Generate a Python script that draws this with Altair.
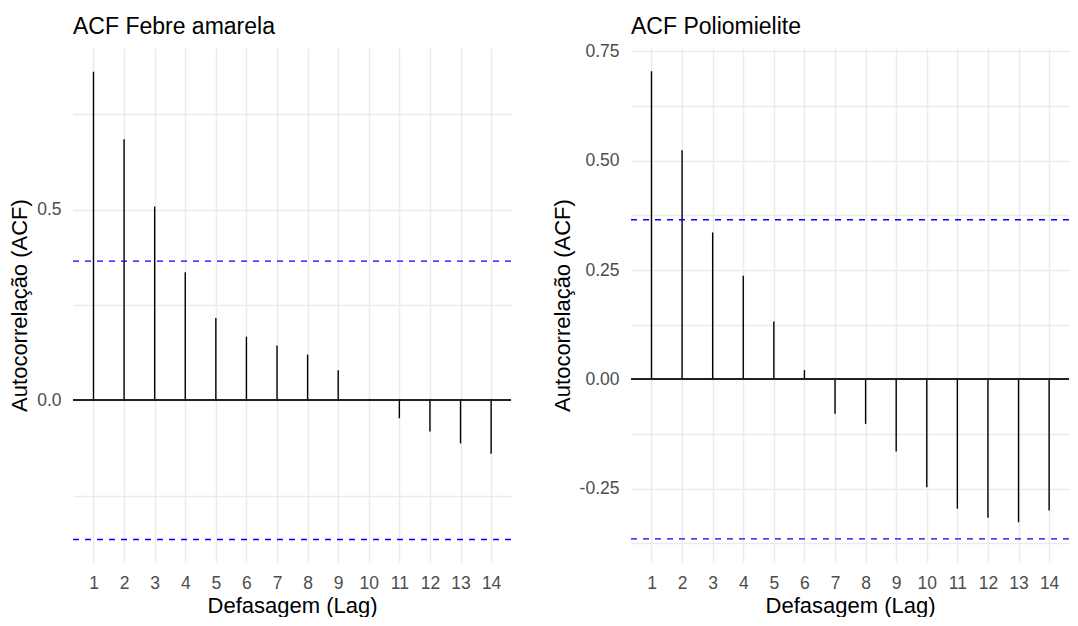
import altair as alt
import pandas as pd

lags = list(range(1, 15))
acf_febre = [0.862, 0.685, 0.508, 0.336, 0.216, 0.167, 0.144, 0.120, 0.079, 0.001,
             -0.047, -0.082, -0.113, -0.140]
acf_polio = [0.705, 0.524, 0.336, 0.237, 0.132, 0.021, -0.079, -0.102, -0.165, -0.247,
             -0.296, -0.317, -0.327, -0.300]
conf_limit = 0.365

FONT = "Liberation Sans"


def panel(values, title, ydomain, grid_vals, label_expr, width, title_offset):
    df = pd.DataFrame({"lag": lags, "acf": values, "zero": [0.0] * len(lags)})
    x = alt.X("lag:Q", scale=alt.Scale(domain=[0.33, 14.65], nice=False, zero=False),
              axis=alt.Axis(values=lags, title="Defasagem (Lag)", format="d"))
    y = alt.Y("acf:Q", scale=alt.Scale(domain=ydomain, nice=False, zero=False),
              axis=alt.Axis(values=grid_vals, labelExpr=label_expr,
                            title="Autocorrelação (ACF)"))
    bars = alt.Chart(df).mark_rule(color="black", strokeWidth=1.4).encode(
        x=x, y=y, y2="zero:Q")
    zero = alt.Chart(df).mark_rule(color="#222222", strokeWidth=1.3).encode(
        y=alt.datum(0))
    conf = pd.DataFrame({"c": [conf_limit, -conf_limit]})
    dash = alt.Chart(conf).mark_rule(color="blue", strokeWidth=1.4,
                                     strokeDash=[6, 6]).encode(y="c:Q")
    return alt.layer(bars, zero, dash).properties(
        width=width, height=514,
        title=alt.TitleParams(title, anchor="start", frame="group",
                              offset=title_offset))


left = panel(acf_febre, "ACF Febre amarela", [-0.424, 0.924],
             [-0.25, 0, 0.25, 0.5, 0.75],
             "(datum.value == 0 || datum.value == 0.5) ? format(datum.value, '.1f') : ''",
             438, 9)
right = panel(acf_polio, "ACF Poliomielite", [-0.418, 0.758],
              [-0.375, -0.25, -0.125, 0, 0.125, 0.25, 0.375, 0.5, 0.625, 0.75],
              "(abs(datum.value * 4 - round(datum.value * 4)) < 0.001) ? replace(format(datum.value, '.2f'), '\u2212', '-') : ''",
              438, 3)

chart = alt.hconcat(left, right, spacing=39).properties(
    padding={"left": 0, "top": 8, "right": 0, "bottom": 0}
).configure_view(stroke=None).configure_axis(
    domain=False, ticks=False, labelColor="#4D4D4D", labelFontSize=17.5,
    labelFont=FONT, titleFont=FONT, titleFontSize=22, titleFontWeight="normal",
    titleColor="black", gridColor="#EBEBEB", gridWidth=1.5, labelPadding=12,
    titlePadding=5
).configure_axisX(labelPadding=12, titlePadding=4).configure_title(
    font=FONT, fontSize=23, fontWeight="normal", color="black"
)

chart.save("out.html", embed_options={"renderer": "svg", "actions": False})
